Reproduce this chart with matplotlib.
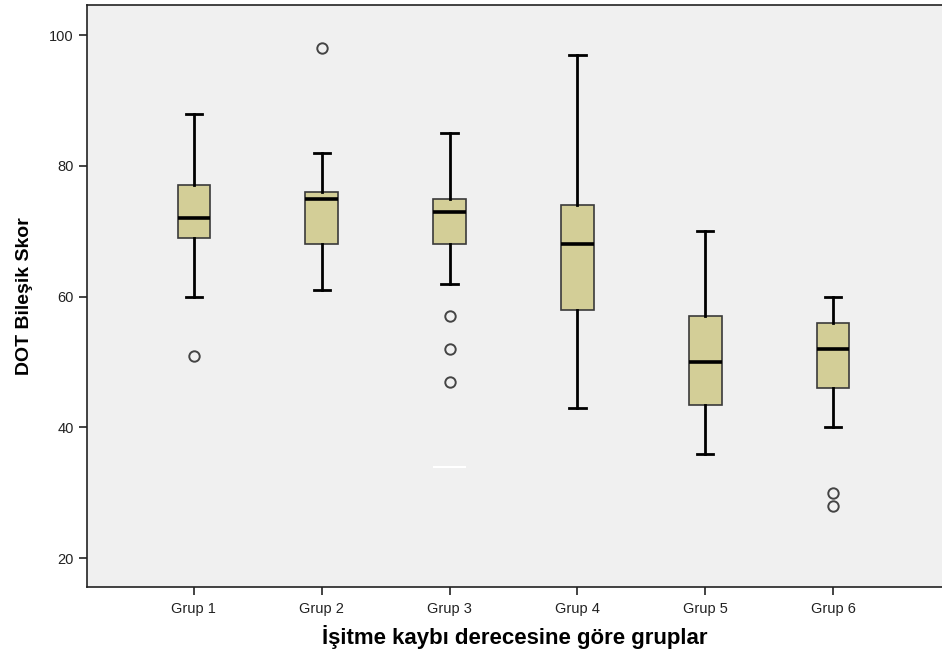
import matplotlib.pyplot as plt

groups = ["Grup 1", "Grup 2", "Grup 3", "Grup 4", "Grup 5", "Grup 6"]
q1 = [69, 68, 68, 58, 43.5, 46]
med = [72, 75, 73, 68, 50, 52]
q3 = [77, 76, 75, 74, 57, 56]
whislo = [60, 61, 62, 43, 36, 40]
whishi = [88, 82, 85, 97, 70, 60]
fliers = [[51], [98], [57, 52, 47], [], [], [30, 28]]

stats = []
for i, g in enumerate(groups):
    stats.append(dict(label=g, q1=q1[i], med=med[i], q3=q3[i],
                      whislo=whislo[i], whishi=whishi[i], fliers=fliers[i]))

fig = plt.figure(figsize=(9.42, 6.52), dpi=100)
ax = fig.add_axes([87 / 942, 1 - 587 / 652, 1 - 87 / 942, 582 / 652])
ax.set_facecolor("#f0f0f0")

ax.bxp(stats, positions=range(1, 7), widths=0.255, patch_artist=True,
       boxprops=dict(facecolor="#d3ce97", edgecolor="#3a3a3a", linewidth=1.2),
       medianprops=dict(color="black", linewidth=2.6),
       whiskerprops=dict(color="black", linewidth=2),
       capprops=dict(color="black", linewidth=2),
       flierprops=dict(marker="o", markerfacecolor="none", markeredgecolor="#444444",
                       markersize=7.5, markeredgewidth=1.4))

# white marker line under Grup 3
ax.hlines(34, 3 - 0.13, 3 + 0.13, color="white", linewidth=1.5)

ax.set_xlim(0.164, 6 + (942 - 833) / 128)
ax.set_ylim(15.6, 104.6)
ax.set_yticks([20, 40, 60, 80, 100])
ax.set_xticks(range(1, 7))
ax.set_xticklabels(groups)

for s in ["left", "bottom", "top"]:
    ax.spines[s].set_color("#222222")
    ax.spines[s].set_linewidth(1.2)
ax.spines["right"].set_visible(False)

ax.tick_params(axis="both", direction="out", length=6, width=1.2, color="#222222",
               labelsize=10.5, labelcolor="#222222")
ax.tick_params(axis="x", pad=5)
for lab in ax.get_xticklabels() + ax.get_yticklabels():
    lab.set_family("Liberation Sans")

ax.set_ylabel("DOT Bileşik Skor", family="Liberation Sans", fontweight="bold",
              fontsize=14, labelpad=12)
ax.set_xlabel("İşitme kaybı derecesine göre gruplar", family="Liberation Sans",
              fontweight="bold", fontsize=16, labelpad=6)

fig.savefig("out.png", dpi=100)
